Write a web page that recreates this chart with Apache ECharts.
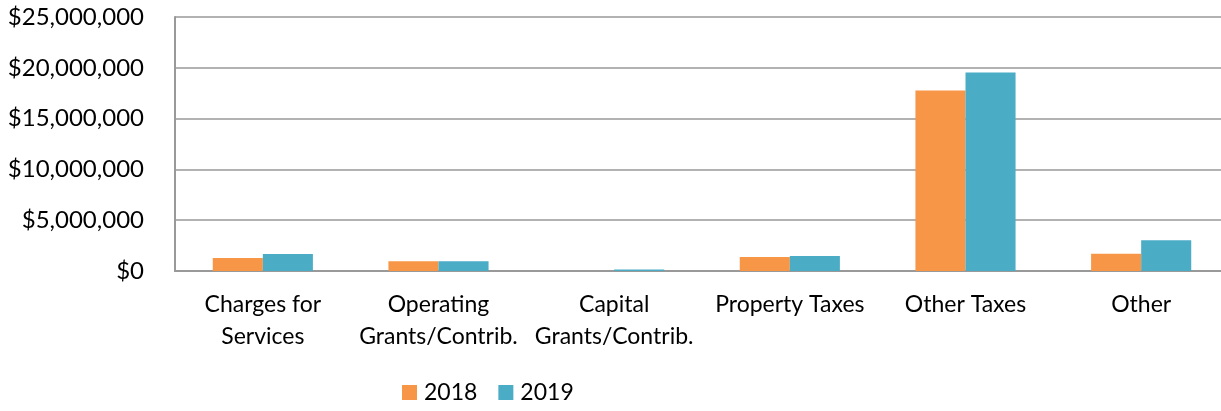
<!DOCTYPE html>
<html>
<head>
<meta charset="utf-8">
<script src="https://cdn.jsdelivr.net/npm/echarts@6/dist/echarts.min.js"></script>
<style>
  html, body { margin: 0; padding: 0; background: #fff; }
  #chart { width: 1221px; height: 411px; }
</style>
</head>
<body>
<div id="chart"></div>
<script>
const categories = [
  'Charges for\nServices',
  'Operating\nGrants/Contrib.',
  'Capital\nGrants/Contrib.',
  'Property Taxes',
  'Other Taxes',
  'Other'
];
const data2018 = [1280000, 950000, 0, 1380000, 17770000, 1700000];
const data2019 = [1670000, 950000, 140000, 1470000, 19540000, 3020000];

const font = 'Lato, "Open Sans", sans-serif';

let myChart = echarts.init(document.getElementById('chart'));
myChart.setOption({
  animation: false,
  legend: {
    left: 402,
    top: 381,
    padding: 0,
    itemWidth: 15,
    itemHeight: 15,
    itemGap: 21,
    icon: 'rect',
    textStyle: { fontFamily: font, fontSize: 23, color: '#000', padding: [0, 0, 0, 2] }
  },
  grid: {
    left: 175,
    width: 1054,
    top: 17,
    height: 254,
    containLabel: false,
    outerBoundsMode: 'none'
  },
  xAxis: {
    type: 'category',
    data: categories,
    axisLine: { lineStyle: { color: '#999', width: 2 } },
    axisTick: { show: false },
    axisLabel: {
      interval: 0,
      margin: 18,
      fontFamily: font,
      fontSize: 23,
      lineHeight: 32,
      color: '#000',
      align: 'center'
    }
  },
  yAxis: {
    type: 'value',
    min: 0,
    max: 25000000,
    interval: 5000000,
    axisLine: { show: true, lineStyle: { color: '#999', width: 2 } },
    axisTick: { show: false },
    splitLine: { lineStyle: { color: '#999', width: 1.5 } },
    axisLabel: {
      margin: 31,
      fontFamily: font,
      fontSize: 24,
      color: '#000',
      formatter: v => '$' + v.toLocaleString('en-US')
    }
  },
  series: [
    {
      name: '2018',
      type: 'bar',
      data: data2018,
      barGap: '0%',
      barCategoryGap: '43%',
      itemStyle: { color: '#F79646' }
    },
    {
      name: '2019',
      type: 'bar',
      data: data2019,
      barGap: '0%',
      barCategoryGap: '43%',
      itemStyle: { color: '#4BACC6' }
    }
  ]
});
</script>
</body>
</html>
